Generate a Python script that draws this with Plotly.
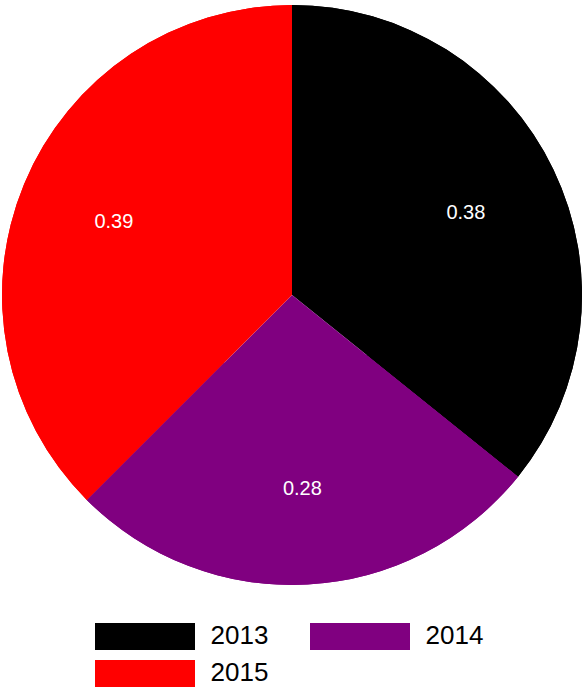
import plotly.graph_objects as go

# data
years = ["2013", "2014", "2015"]
values = [0.376, 0.281, 0.394]
colors = ["#000000", "#800080", "#ff0000"]

W, H = 584, 692
FONT = "Liberation Sans, Arial, sans-serif"
pie_domain = dict(x=[2 / W, 582 / W], y=[1 - 585 / H, 1 - 5 / H])

fig = go.Figure()

# full pie underneath (no text)
fig.add_trace(go.Pie(
    labels=years, values=values,
    marker=dict(colors=colors, line=dict(width=0)),
    sort=False, direction="clockwise", rotation=0,
    textinfo="none", hoverinfo="skip", showlegend=False,
    domain=pie_domain,
))
# same slices on top as a ring, which places the value labels further out
fig.add_trace(go.Pie(
    labels=years, values=values,
    marker=dict(colors=colors, line=dict(width=0)),
    sort=False, direction="clockwise", rotation=0, hole=0.33,
    texttemplate="%{value:.2f}",
    textposition="inside",
    insidetextorientation="horizontal",
    insidetextfont=dict(color="white", size=20, family=FONT),
    hoverinfo="label+value", showlegend=False,
    domain=pie_domain,
))

# custom legend: wide swatches drawn as horizontal bars on a pixel-scaled hidden axis
sw_w, sw_h = 100, 27
x_start, col_gap = 95, 215
y_start, row_gap = 636.5, 37
ncol = 2
for i, (yr, c) in enumerate(zip(years, colors)):
    col, row = i % ncol, i // ncol
    x0 = x_start + col * col_gap
    yc = y_start + row * row_gap
    fig.add_trace(go.Bar(
        x=[sw_w], base=[x0], y=[yc], orientation="h", width=[sw_h],
        marker=dict(color=c, line=dict(width=0)),
        showlegend=False, hoverinfo="skip",
    ))
    fig.add_trace(go.Scatter(
        x=[x0 + sw_w + 15.5], y=[yc + 1], mode="text", text=[yr],
        textposition="middle right",
        textfont=dict(size=26, color="black", family=FONT),
        showlegend=False, hoverinfo="skip", cliponaxis=False,
    ))

fig.update_layout(
    width=W, height=H,
    margin=dict(l=0, r=0, t=0, b=0),
    paper_bgcolor="white", plot_bgcolor="rgba(0,0,0,0)",
    barmode="overlay",
    xaxis=dict(range=[0, W], visible=False, fixedrange=True),
    yaxis=dict(range=[H, 0], visible=False, fixedrange=True),
    font=dict(family=FONT),
)

fig.write_html(
    "out.html",
    config={"displayModeBar": False},
    post_script="document.body.style.margin='0';document.body.style.overflow='hidden';",
)
